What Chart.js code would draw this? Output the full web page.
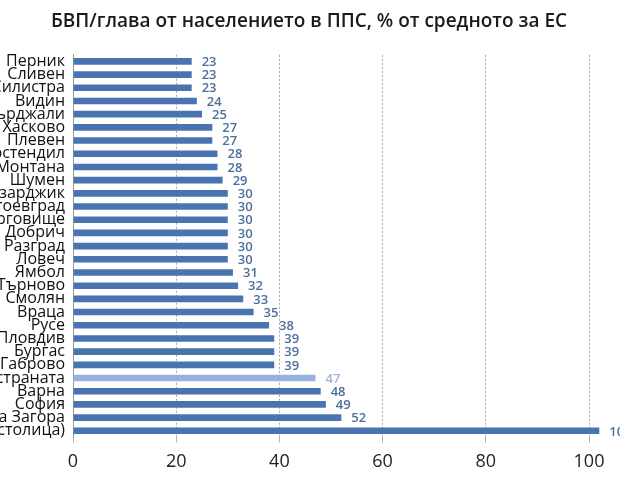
<!DOCTYPE html>
<html>
<head>
<meta charset="utf-8">
<script src="https://cdn.jsdelivr.net/npm/chart.js@4"></script>
<style>
  html, body { margin: 0; padding: 0; background: #fff; overflow: hidden; }
  #wrap { position: absolute; left: -100px; top: 0; width: 848px; height: 486px; }
</style>
</head>
<body>
<div id="wrap"><canvas id="gdpChart"></canvas></div>
<script>
const regions = ['Перник', 'Сливен', 'Силистра', 'Видин', 'Кърджали', 'Хасково', 'Плевен',
  'Кюстендил', 'Монтана', 'Шумен', 'Пазарджик', 'Благоевград', 'Търговище', 'Добрич',
  'Разград', 'Ловеч', 'Ямбол', 'Велико Търново', 'Смолян', 'Враца', 'Русе', 'Пловдив',
  'Бургас', 'Габрово', 'Средно за страната', 'Варна', 'София', 'Стара Загора', 'София (столица)'];
const gdpShare = [23, 23, 23, 24, 25, 27, 27, 28, 28, 29, 30, 30, 30, 30, 30, 30, 31, 32, 33,
  35, 38, 39, 39, 39, 47, 48, 49, 52, 102];
const countryLabel = 'Средно за страната';
const xTicks = [0, 20, 40, 60, 80, 100, 120];

const barColors = regions.map(r => r === countryLabel ? '#93b2dc' : '#4a74b0');
const labelColors = regions.map(r => r === countryLabel ? '#9fb6d6' : '#4d6f9c');

// value labels to the right of each bar
const valueLabels = {
  id: 'valueLabels',
  afterDatasetsDraw(chart) {
    const ctx = chart.ctx;
    const meta = chart.getDatasetMeta(0);
    ctx.save();
    ctx.font = '600 13px "Open Sans"';
    ctx.textBaseline = 'middle';
    ctx.textAlign = 'left';
    meta.data.forEach((bar, i) => {
      ctx.fillStyle = labelColors[i];
      ctx.fillText(gdpShare[i], bar.x + 10, bar.y + 1);
    });
    ctx.restore();
  }
};

new Chart(document.getElementById('gdpChart'), {
  type: 'bar',
  data: {
    labels: regions,
    datasets: [{
      data: gdpShare,
      backgroundColor: barColors,
      categoryPercentage: 1,
      barPercentage: 0.5
    }]
  },
  options: {
    indexAxis: 'y',
    responsive: true,
    maintainAspectRatio: false,
    animation: false,
    layout: { padding: { top: 6, right: 30, bottom: 4, left: 0 } },
    plugins: {
      legend: { display: false },
      tooltip: { enabled: false },
      title: {
        display: true,
        text: 'БВП/глава от населението в ППС, % от средното за ЕС',
        color: '#1a1a1a',
        font: { family: 'Open Sans', size: 19, weight: '600' },
        padding: { top: 4, bottom: 22 }
      }
    },
    scales: {
      x: {
        min: 0,
        max: 125,
        afterBuildTicks: s => { s.ticks = xTicks.map(v => ({ value: v })); },
        grid: {
          color: ctx => ctx.tick && ctx.tick.value === 0 ? 'rgba(0,0,0,0)' : '#a8a8a8',
          tickColor: '#b5b5b5',
          tickLength: 5,
          drawTicks: true
        },
        border: { display: false, dash: [2, 2] },
        ticks: {
          color: '#222',
          font: { family: 'Open Sans', size: 18 },
          padding: 9
        }
      },
      y: {
        afterFit: s => { s.width = 173; },
        grid: { display: false, drawOnChartArea: false, tickLength: 5, tickColor: '#9a9a9a', offset: true },
        border: { display: true, color: '#9a9a9a' },
        ticks: {
          color: '#111',
          font: { family: 'Open Sans', size: 16 },
          padding: 3,
          autoSkip: false
        }
      }
    }
  },
  plugins: [valueLabels]
});
</script>
</body>
</html>
